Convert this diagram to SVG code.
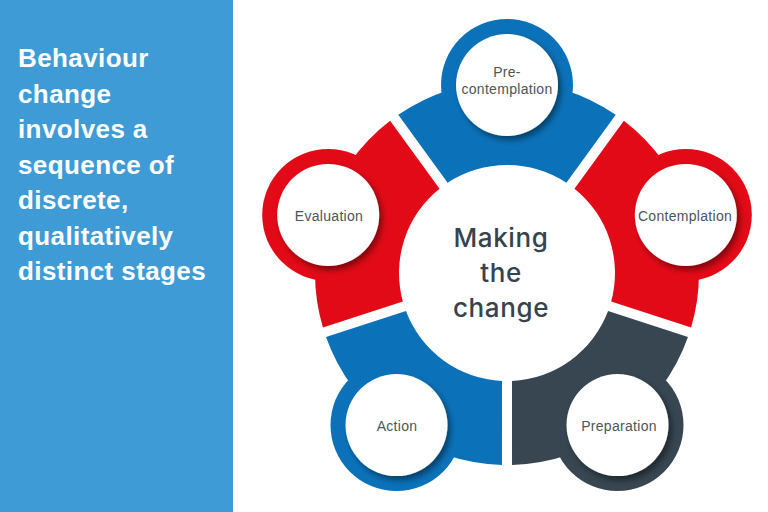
<svg xmlns="http://www.w3.org/2000/svg" width="768" height="512" viewBox="0 0 768 512">
<defs>
<style>
.panel{fill:#3f9bd5}
.lead{font-family:"Liberation Sans",Arial,sans-serif;font-weight:bold;font-size:26px;fill:#ffffff;letter-spacing:0.4px}
.blue{fill:#0b72ba}
.red{fill:#e30a17}
.dark{fill:#374651}
.inner{fill:#ffffff;filter:url(#sh)}
.lbl{font-family:"Liberation Sans",Arial,sans-serif;font-size:14px;fill:#4a5660;text-anchor:middle;letter-spacing:0.3px}
.hub{font-family:Inter,"Liberation Sans",Arial,sans-serif;font-weight:500;font-size:26px;fill:#36434d;text-anchor:middle;letter-spacing:0.6px}
</style>
<filter id="sh" x="-30%" y="-30%" width="160%" height="160%">
<feDropShadow dx="3" dy="4" stdDeviation="3" flood-color="#000000" flood-opacity="0.45"/>
</filter>
</defs>
<rect class="panel" x="0" y="0" width="233" height="512"/>
<text class="lead" x="18">
<tspan x="18" y="67">Behaviour</tspan>
<tspan x="18" y="102.5">change</tspan>
<tspan x="18" y="138">involves a</tspan>
<tspan x="18" y="173.5">sequence of</tspan>
<tspan x="18" y="209">discrete,</tspan>
<tspan x="18" y="244.5">qualitatively</tspan>
<tspan x="18" y="280">distinct stages</tspan>
</text>
<g id="precontemplation">
<path class="blue" d="M398.25 114.77 A192 192 0 0 1 615.75 114.77 L566.38 182.79 A108 108 0 0 0 447.62 182.79 Z"/>
<circle class="blue" cx="507" cy="85" r="66"/>
<circle class="inner" cx="507" cy="85" r="51"/>
<text class="lbl" x="507" y="77">Pre-</text>
<text class="lbl" x="507" y="94">contemplation</text>
</g>
<g id="contemplation">
<path class="red" d="M623.89 120.67 A192 192 0 0 1 691.09 327.53 L611.14 301.59 A108 108 0 0 0 574.47 188.66 Z"/>
<circle class="red" cx="685.8" cy="214.9" r="66"/>
<circle class="inner" cx="685.8" cy="214.9" r="51"/>
<text class="lbl" x="685" y="221">Contemplation</text>
</g>
<g id="preparation">
<path class="dark" d="M687.98 337.09 A192 192 0 0 1 512.03 464.93 L511.99 380.88 A108 108 0 0 0 608.07 311.09 Z"/>
<circle class="dark" cx="617.5" cy="425.1" r="66"/>
<circle class="inner" cx="617.5" cy="425.1" r="51"/>
<text class="lbl" x="619" y="431">Preparation</text>
</g>
<g id="action">
<path class="blue" d="M501.97 464.93 A192 192 0 0 1 326.02 337.09 L405.93 311.09 A108 108 0 0 0 502.01 380.88 Z"/>
<circle class="blue" cx="396.5" cy="425.1" r="66"/>
<circle class="inner" cx="396.5" cy="425.1" r="51"/>
<text class="lbl" x="397" y="431">Action</text>
</g>
<g id="evaluation">
<path class="red" d="M322.91 327.53 A192 192 0 0 1 390.11 120.67 L439.53 188.66 A108 108 0 0 0 402.86 301.59 Z"/>
<circle class="red" cx="328.2" cy="214.9" r="66"/>
<circle class="inner" cx="328.2" cy="214.9" r="51"/>
<text class="lbl" x="329" y="221">Evaluation</text>
</g>
<g id="hub">
<text class="hub" x="501" y="247">Making</text>
<text class="hub" x="501" y="282">the</text>
<text class="hub" x="501" y="317">change</text>
</g>
<g id="connectors"></g>
</svg>
